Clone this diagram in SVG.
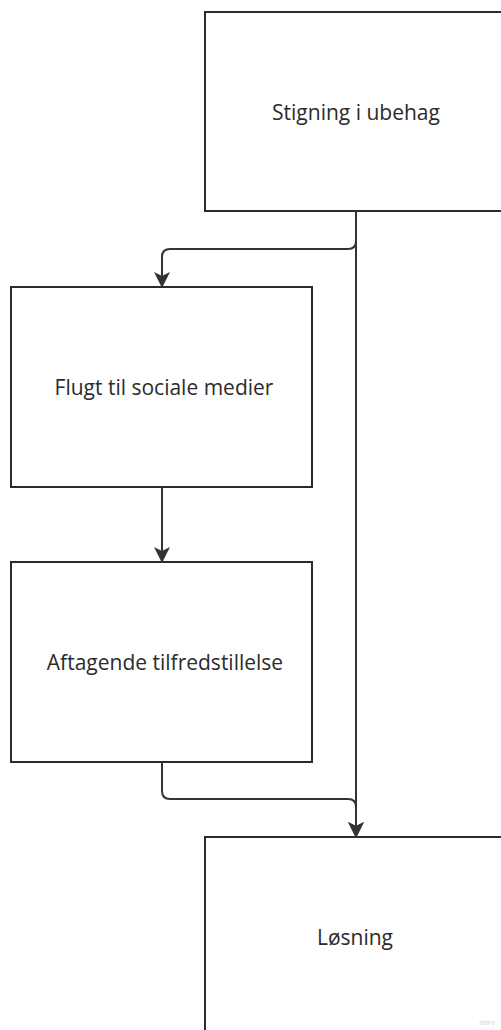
<svg xmlns="http://www.w3.org/2000/svg" width="501" height="1030" viewBox="0 0 501 1030">
<style>
.box{fill:#ffffff;stroke:#2b2b2b;stroke-width:2}
.lbl{font-family:"Open Sans",sans-serif;font-size:21px;fill:#2b2b2b;text-anchor:middle}
.edge{fill:none;stroke:#333333;stroke-width:2}
</style>
<defs>
<marker id="ah" markerWidth="16" markerHeight="16" viewBox="0 0 16 16" refX="14" refY="8" orient="auto" markerUnits="userSpaceOnUse">
<path d="M0,0 L16,8 L0,16 L4,8 Z" fill="#333333"/>
</marker>
</defs>
<rect width="501" height="1030" fill="#ffffff"/>
<g id="n1"><rect class="box" x="205" y="12" width="310" height="199"/><text class="lbl" x="356" y="120">Stigning i ubehag</text></g>
<g id="n2"><rect class="box" x="11" y="287" width="301" height="200"/><text class="lbl" x="164" y="395">Flugt til sociale medier</text></g>
<g id="n3"><rect class="box" x="11" y="562" width="301" height="200"/><text class="lbl" x="165" y="670">Aftagende tilfredstillelse</text></g>
<g id="n4"><rect class="box" x="205" y="837" width="310" height="210"/><text class="lbl" x="355" y="945">Løsning</text></g>
<g id="edges">
<path class="edge" d="M356,211 V241 Q356,249 348,249 H170 Q162,249 162,257 V286" marker-end="url(#ah)"/>
<path class="edge" d="M356,211 V836" marker-end="url(#ah)"/>
<path class="edge" d="M162,487 V561" marker-end="url(#ah)"/>
<path class="edge" d="M162,762 V791 Q162,799 170,799 H348 Q356,799 356,807 V836" marker-end="url(#ah)"/>
</g>
<text x="487" y="1025" font-family="Open Sans,sans-serif" font-size="7" fill="#d0d0d0" text-anchor="middle">miro</text>
</svg>
